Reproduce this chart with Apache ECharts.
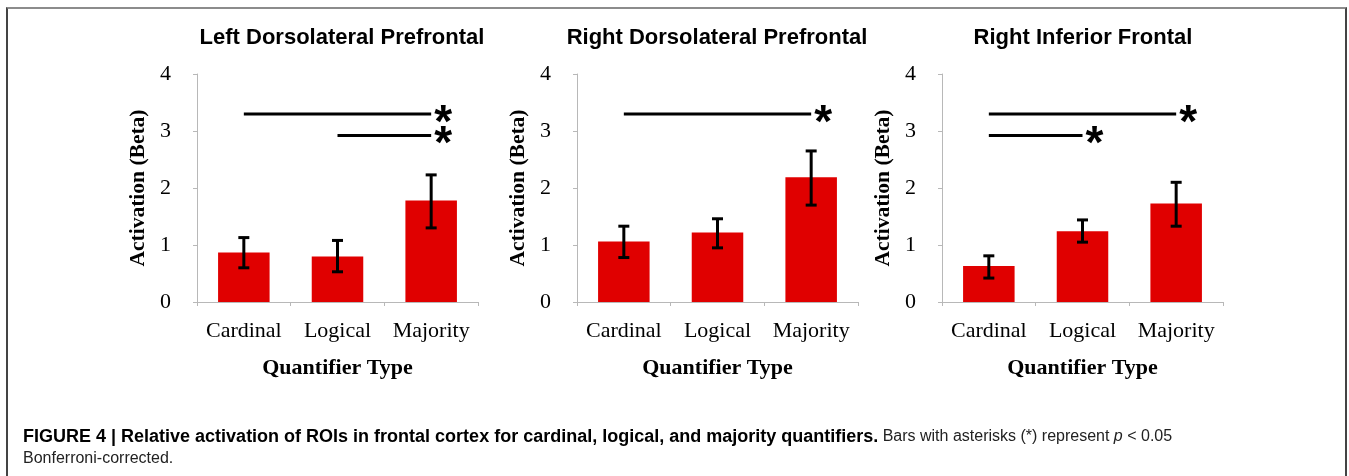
<!DOCTYPE html>
<html>
<head>
<meta charset="utf-8">
<script src="https://cdn.jsdelivr.net/npm/echarts@6/dist/echarts.min.js"></script>
<style>
  html, body { margin: 0; padding: 0; background: #fff; }
  #frame { position: absolute; left: 6px; top: 7px; width: 1337px; height: 480px;
           border-top: 2px solid #8c8c8c; border-left: 2px solid #444; border-right: 2px solid #444; }
  #main { position: absolute; left: 0; top: 0; width: 1349px; height: 476px; }
</style>
</head>
<body>
<div id="frame"></div>
<div id="main"></div>
<script>
  // categories and panel titles
  var categories = ['Cardinal', 'Logical', 'Majority'];
  var panelTitles = ['Left Dorsolateral Prefrontal', 'Right Dorsolateral Prefrontal', 'Right Inferior Frontal'];
  var yTicks = [0, 1, 2, 3, 4];

  // bar heights (beta) and error bar ends
  var leftDLPFC = [0.87, 0.80, 1.78];
  var leftDLPFCLow = [0.60, 0.53, 1.30];
  var leftDLPFCHigh = [1.13, 1.08, 2.23];

  var rightDLPFC = [1.06, 1.22, 2.19];
  var rightDLPFCLow = [0.78, 0.95, 1.70];
  var rightDLPFCHigh = [1.33, 1.46, 2.65];

  var rightIF = [0.63, 1.24, 1.73];
  var rightIFLow = [0.42, 1.05, 1.33];
  var rightIFHigh = [0.81, 1.44, 2.10];

  // significance lines: [from category, to category, height]
  var leftDLPFCSig = [[0, 2, 3.30], [1, 2, 2.92]];
  var rightDLPFCSig = [[0, 2, 3.30]];
  var rightIFSig = [[0, 2, 3.30], [0, 1, 2.92]];

  var panels = [
    {bars: leftDLPFC, low: leftDLPFCLow, high: leftDLPFCHigh, sig: leftDLPFCSig},
    {bars: rightDLPFC, low: rightDLPFCLow, high: rightDLPFCHigh, sig: rightDLPFCSig},
    {bars: rightIF, low: rightIFLow, high: rightIFHigh, sig: rightIFSig}
  ];

  var gridLefts = [197, 577, 942];
  var gridWidth = 281;
  var titleCenters = [342, 717, 1083];

  var serif = '"Liberation Serif", "Times New Roman", serif';
  var sans = '"Liberation Sans", Arial, sans-serif';

  var myChart = echarts.init(document.getElementById('main'));

  var grids = [], xAxes = [], yAxes = [], series = [], titles = [];

  panels.forEach(function (p, i) {
    grids.push({left: gridLefts[i], top: 74, width: gridWidth, height: 228});
    titles.push({
      text: panelTitles[i], left: titleCenters[i], top: 27, textAlign: 'center', padding: 0,
      textStyle: {fontFamily: sans, fontWeight: 'bold', fontSize: 22, color: '#000'}
    });
    xAxes.push({
      type: 'category', gridIndex: i, data: categories,
      name: 'Quantifier Type', nameLocation: 'middle', nameGap: 55,
      nameTextStyle: {fontFamily: serif, fontWeight: 'bold', fontSize: 22, color: '#000'},
      axisLine: {lineStyle: {color: '#b8b8b8', width: 1}},
      axisTick: {show: true, length: 4, lineStyle: {color: '#b8b8b8'}},
      axisLabel: {interval: 0, fontFamily: serif, fontSize: 22, color: '#000', margin: 18}
    });
    yAxes.push({
      type: 'value', gridIndex: i, min: yTicks[0], max: yTicks[yTicks.length - 1], interval: 1,
      name: 'Activation (Beta)', nameLocation: 'middle', nameGap: 48,
      nameTextStyle: {fontFamily: serif, fontWeight: 'bold', fontSize: 21.5, color: '#000'},
      axisLine: {show: true, lineStyle: {color: '#b8b8b8', width: 1}},
      axisTick: {show: true, length: 4, lineStyle: {color: '#b8b8b8'}},
      splitLine: {show: false},
      axisLabel: {fontFamily: serif, fontSize: 22, color: '#000', margin: 26}
    });
    series.push({
      type: 'bar', xAxisIndex: i, yAxisIndex: i, data: p.bars, barWidth: '55%',
      itemStyle: {color: '#e00000'}, silent: true
    });
    // error bars
    series.push({
      type: 'custom', xAxisIndex: i, yAxisIndex: i, silent: true, z: 5,
      data: p.low.map(function (lo, k) { return [k, lo, p.high[k]]; }),
      renderItem: function (params, api) {
        var lo = api.coord([api.value(0), api.value(1)]);
        var hi = api.coord([api.value(0), api.value(2)]);
        var c = 5.5;
        var st = {stroke: '#000', lineWidth: 3};
        return {type: 'group', children: [
          {type: 'line', shape: {x1: lo[0], y1: lo[1], x2: hi[0], y2: hi[1]}, style: st},
          {type: 'line', shape: {x1: hi[0] - c, y1: hi[1], x2: hi[0] + c, y2: hi[1]}, style: st},
          {type: 'line', shape: {x1: lo[0] - c, y1: lo[1], x2: lo[0] + c, y2: lo[1]}, style: st}
        ]};
      }
    });
    // significance lines with asterisks
    series.push({
      type: 'custom', xAxisIndex: i, yAxisIndex: i, silent: true, z: 5,
      data: p.sig,
      renderItem: function (params, api) {
        var a = api.coord([api.value(0), api.value(2)]);
        var b = api.coord([api.value(1), api.value(2)]);
        return {type: 'group', children: [
          {type: 'line', shape: {x1: a[0], y1: a[1], x2: b[0], y2: b[1]},
           style: {stroke: '#000', lineWidth: 3}},
          {type: 'text', x: b[0] + 12, y: b[1] + 10,
           style: {text: '*', font: 'bold 46px ' + sans, fill: '#000',
                   textAlign: 'center', textVerticalAlign: 'middle'}}
        ]};
      }
    });
  });

  titles.push({
    left: 23, top: 426, padding: 0,
    text: '{b|FIGURE 4 | Relative activation of ROIs in frontal cortex for cardinal, logical, and majority quantifiers.}' +
          '{n| Bars with asterisks (*) represent }{i|p}{n| < 0.05}\n{n|Bonferroni-corrected.}',
    textStyle: {
      fontWeight: 'normal',
      rich: {
        b: {fontFamily: sans, fontWeight: 'bold', fontSize: 18, color: '#000', lineHeight: 22},
        n: {fontFamily: sans, fontWeight: 'normal', fontSize: 16, color: '#222', lineHeight: 22},
        i: {fontFamily: sans, fontWeight: 'normal', fontSize: 16, fontStyle: 'italic', color: '#222', lineHeight: 22}
      }
    }
  });

  myChart.setOption({
    backgroundColor: 'transparent',
    animation: false,
    title: titles,
    grid: grids,
    xAxis: xAxes,
    yAxis: yAxes,
    series: series
  });
</script>
</body>
</html>
